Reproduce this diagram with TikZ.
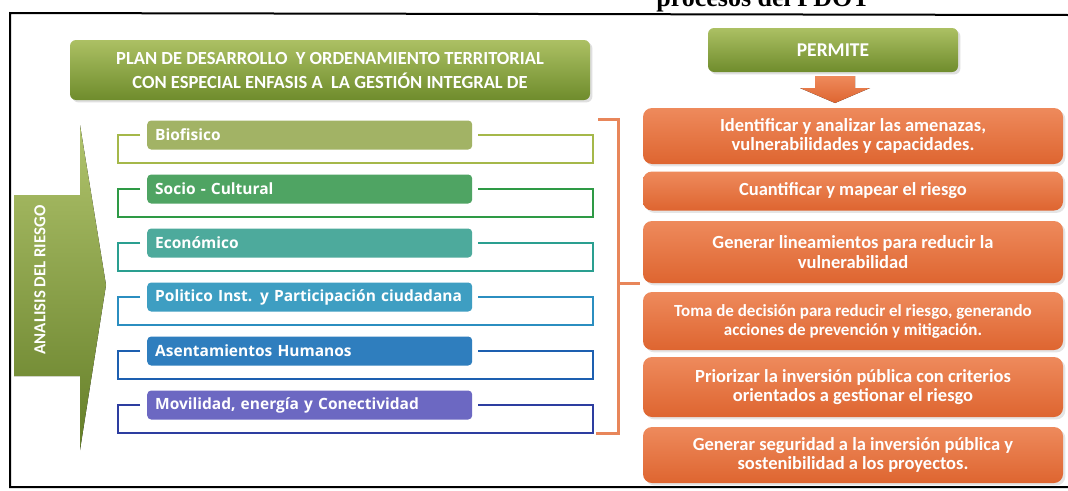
\documentclass[tikz,border=0pt]{standalone}
\usepackage{fontspec}
\setmainfont{Carlito}
\newfontfamily\rowfont{Open Sans}
\newfontfamily\titlefont{Liberation Serif}
\usetikzlibrary{shadows}
\definecolor{gA}{HTML}{9DB548}
\definecolor{gB}{HTML}{6F8C2C}
\definecolor{oA}{HTML}{EE8A5C}
\definecolor{oB}{HTML}{DE6530}
\definecolor{oL}{HTML}{E8865A}
\definecolor{b1}{HTML}{A2B365}\definecolor{l1}{HTML}{A5B84A}
\definecolor{b2}{HTML}{4FA463}\definecolor{l2}{HTML}{2E9A45}
\definecolor{b3}{HTML}{4DAA9C}\definecolor{l3}{HTML}{2A9F90}
\definecolor{b4}{HTML}{3E9EC2}\definecolor{l4}{HTML}{2B8EC0}
\definecolor{b5}{HTML}{2F7EBE}\definecolor{l5}{HTML}{1D5FB0}
\definecolor{b6}{HTML}{6C68C2}\definecolor{l6}{HTML}{2D3DA0}
\tikzset{
  greenbox/.style={rounded corners=6pt, top color=gA!85!white, bottom color=gB, text=white,
     font=\bfseries\fontsize{18.5}{24}\selectfont, align=center, drop shadow={opacity=0.25}},
  orangebox/.style={rounded corners=9pt, top color=oA, bottom color=oB, text=white,
     minimum width=420pt, align=center, font=\bfseries\fontsize{18.5}{19.5}\selectfont,
     drop shadow={opacity=0.2}},
  rowbox/.style={rounded corners=4pt, minimum width=325pt, minimum height=29pt, text=white,
     font=\rowfont\fontsize{15.5}{17}\selectfont\bfseries, anchor=west, inner sep=0pt},
  rowline/.style={line width=2.6pt},
}
\begin{document}
\begin{tikzpicture}[x=1pt,y=-1pt]
\clip (0,0) rectangle (1068,490);
\fill[white] (0,0) rectangle (1068,490);
% frame
\draw[line width=2pt] (1068,15) -- (10,13) -- (10,487) -- (1068,487);
% clipped title
\node[font=\titlefont\bfseries\fontsize{26}{28}\selectfont, anchor=base] (title) at (763,6) {procesos del PDOT};
% top boxes
\node[greenbox, minimum width=520pt, minimum height=60pt] (plan) at (330,70)
  {PLAN DE DESARROLLO \ Y ORDENAMIENTO TERRITORIAL\\CON ESPECIAL ENFASIS A \ LA GESTIÓN INTEGRAL DE};
\node[greenbox, minimum width=250pt, minimum height=44pt, font=\bfseries\fontsize{19.5}{21}\selectfont] (permite) at (833,50) {PERMITE};
\coordinate (arr) at (835,103);
\fill[top color=oA, bottom color=oB] (815,76) -- (855,76) -- (855,88) -- (870,88) -- (arr) -- (800,88) -- (815,88) -- cycle;
% orange boxes
\node[orangebox, minimum height=56pt] (o1) at (853,136) {Identificar y analizar las amenazas,\\vulnerabilidades y capacidades.};
\node[orangebox, minimum height=39pt] (o2) at (853,191) {Cuantificar y mapear el riesgo};
\node[orangebox, minimum height=62pt] (o3) at (853,252) {Generar lineamientos para reducir la\\vulnerabilidad};
\node[orangebox, minimum height=58pt, font=\bfseries\fontsize{17}{19}\selectfont] (o4) at (853,321) {Toma de decisión para reducir el riesgo, generando\\acciones de prevención y mitigación.};
\node[orangebox, minimum height=60pt] (o5) at (853,387) {Priorizar la inversión pública con criterios\\orientados a gestionar el riesgo};
\node[orangebox, minimum height=56pt] (o6) at (853,455) {Generar seguridad a la inversión pública y\\sostenibilidad a los proyectos.};
% orange bracket
\coordinate (bt) at (598,119);
\coordinate (bb) at (596,433);
\coordinate (bm) at (640,283);
\draw[oL, line width=3pt] (bt) -- (618,119) -- (618,433) -- (bb);
\draw[oL, line width=3pt] (618,283) -- (bm);
% left big arrow
\fill[top color=gA!80!white, bottom color=gB!90!black]
  (14,195) -- (80,195) -- (80,125) -- (106,285) -- (80,450) -- (80,376) -- (14,376) -- cycle;
\node[rotate=90, text=white, font=\bfseries\fontsize{16.8}{18}\selectfont] (ana) at (40,280) {ANALISIS DEL RIESGO};
% rows
\foreach \i/\txt in {1/Biofisico, 2/Socio - Cultural, 3/Económico, 4/Politico Inst. y Participación ciudadana, 5/Asentamientos Humanos, 6/{Movilidad, energía y Conectividad}}{
  \pgfmathsetmacro{\cy}{135+54*(\i-1)}
  \node[rowbox, fill=b\i, text width=309pt, align=left, inner xsep=8pt] (r\i) at (147,\cy) {\txt};
  \coordinate (la\i) at (140,\cy);
  \coordinate (ra\i) at (478,\cy);
  \draw[rowline, l\i] (la\i) -- (118,\cy) -- (118,\cy+28) -- (593,\cy+28) -- (593,\cy) -- (ra\i);
}
\end{tikzpicture}
\end{document}
